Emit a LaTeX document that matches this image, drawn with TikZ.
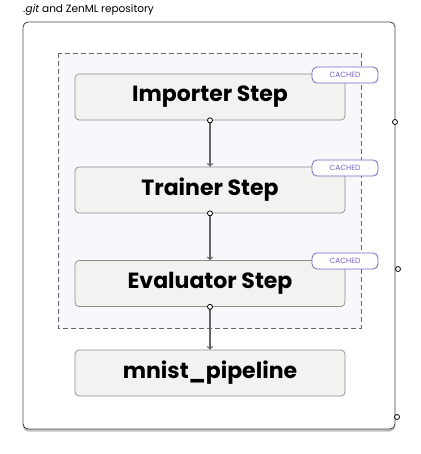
\documentclass[tikz,border=0pt]{standalone}
\usepackage{fontspec}
\setmainfont{Poppins}
\usepackage{tikz}
\usetikzlibrary{shadows}

\definecolor{stepfill}{HTML}{F2F2F0}
\definecolor{groupfill}{HTML}{F8F8FC}
\definecolor{cachedcol}{HTML}{7A62C2}

\tikzset{
  stepnode/.style={draw=black!45,line width=0.7pt,fill=stepfill,rounded corners=4pt,minimum width=270pt,minimum height=46pt,font=\fontsize{22}{24}\selectfont\bfseries},
  cachedtag/.style={draw=cachedcol,line width=0.8pt,fill=white,rounded corners=5pt,minimum width=66pt,minimum height=16pt,inner sep=0pt,text=cachedcol,font=\fontsize{7.5}{8}\selectfont},
  port/.style={circle,draw=black,fill=white,line width=0.8pt,inner sep=0pt,minimum size=5pt},
  flow/.style={->,>=to,draw=black!60,line width=1.3pt}
}

\begin{document}
\begin{tikzpicture}[x=1pt,y=-1pt]
\useasboundingbox (0,0) rectangle (420,454);

\node [anchor=west,font=\fontsize{10.5}{12}\selectfont] (repo) at (20,10) {\textit{.git} and ZenML repository};
\draw [draw=black!70,line width=0.9pt,fill=white,rounded corners=5pt,drop shadow={shadow xshift=0pt,shadow yshift=-2.5pt,opacity=0.5}] (23,22) rectangle (395,429);
\draw [draw=black!60,line width=0.7pt,fill=groupfill,dashed,dash pattern=on 5pt off 3pt] (58,53) rectangle (361,328);

\node [stepnode] (imp) at (210,97) {Importer Step};
\node [stepnode] (trn) at (210,190) {Trainer Step};
\node [stepnode] (evl) at (210,283.5) {Evaluator Step};
\node [stepnode] (pipe) at (210,373) {mnist\_pipeline};

\node [cachedtag] (c1) at (345,75) {CACHED};
\node [cachedtag] (c2) at (345,168) {CACHED};
\node [cachedtag] (c3) at (345,261) {CACHED};

\draw [flow] (imp.south) -- (trn.north);
\draw [flow] (trn.south) -- (evl.north);
\draw [flow] (evl.south) -- (pipe.north);
\node [port] (o1) at (imp.south) {};
\node [port] (o2) at (trn.south) {};
\node [port] (o3) at (evl.south) {};

\node [port] (p1) at (395,122) {};
\node [port] (p2) at (398,269) {};
\node [port] (p3) at (397,417) {};
\end{tikzpicture}
\end{document}
